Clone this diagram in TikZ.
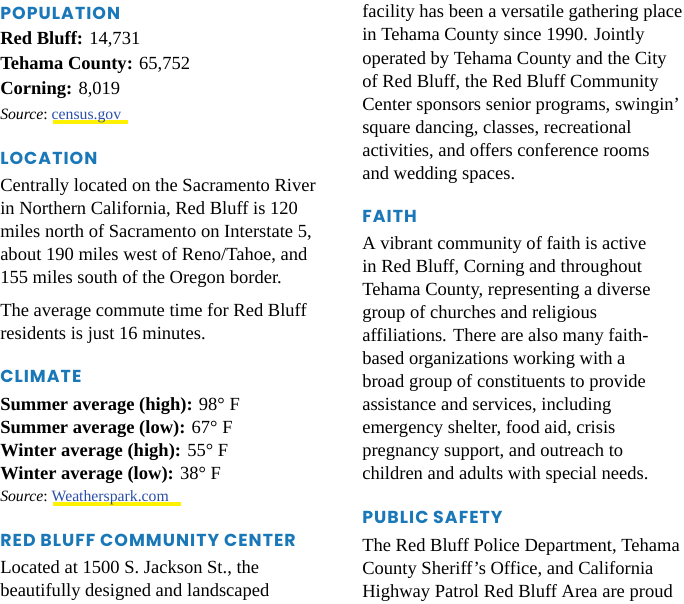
\documentclass[tikz,border=0pt]{standalone}
\usepackage{fontspec}
\setmainfont{Liberation Serif}
\newfontfamily\headfont[LetterSpace=6]{Poppins}
\definecolor{hblue}{HTML}{1A78B8}
\definecolor{lblue}{HTML}{2A4FA8}
\definecolor{hyel}{HTML}{FFF200}
\tikzset{x=0.75pt,y=-0.75pt,
 body/.style={anchor=base west,inner sep=0pt,font=\fontsize{13.9}{15}\selectfont},
 head/.style={anchor=base west,inner sep=0pt,text=hblue,font=\headfont\bfseries\fontsize{13}{14}\selectfont},
 src/.style={anchor=base west,inner sep=0pt,font=\fontsize{11.8}{13}\selectfont}}
\newcommand{\lnk}[1]{\textcolor{lblue}{#1}}
\begin{document}
\begin{tikzpicture}
\useasboundingbox (0,0) rectangle (684,603);
\node[head] (h1) at (0,19) {POPULATION};
\node[body] (a1) at (0,44) {\textbf{Red Bluff:} 14,731};
\node[body] (a2) at (0,69) {\textbf{Tehama County:} 65,752};
\node[body] (a3) at (0,94) {\textbf{Corning:} 8,019};
\fill[hyel] (53,120) rectangle (128,124);
\node[src] (s1) at (0,119) {\textit{Source}:\ \lnk{census.gov}};
\node[head] (h2) at (0,164) {LOCATION};
\node[body] (b1) at (0,191) {Centrally located on the Sacramento River};
\node[body] (b2) at (0,214) {in Northern California, Red Bluff is 120};
\node[body] (b3) at (0,237) {miles north of Sacramento on Interstate 5,};
\node[body] (b4) at (0,260) {about 190 miles west of Reno/Tahoe, and};
\node[body] (b5) at (0,283) {155 miles south of the Oregon border.};
\node[body] (b6) at (0,316) {The average commute time for Red Bluff};
\node[body] (b7) at (0,339) {residents is just 16 minutes.};
\node[head] (h3) at (0,382) {CLIMATE};
\node[body] (c1) at (0,410) {\textbf{Summer average (high):} 98° F};
\node[body] (c2) at (0,433) {\textbf{Summer average (low):} 67° F};
\node[body] (c3) at (0,456) {\textbf{Winter average (high):} 55° F};
\node[body] (c4) at (0,479) {\textbf{Winter average (low):} 38° F};
\fill[hyel] (53,502) rectangle (181,506);
\node[src] (s2) at (0,501) {\textit{Source}:\ \lnk{Weatherspark.com}};
\node[head] (h4) at (0,546) {RED BLUFF COMMUNITY CENTER};
\node[body] (d1) at (0,573) {Located at 1500 S. Jackson St., the};
\node[body] (d2) at (0,596) {beautifully designed and landscaped};
\node[body] (e1) at (362,17) {facility has been a versatile gathering place};
\node[body] (e2) at (362,40) {in Tehama County since 1990. Jointly};
\node[body] (e3) at (362,64) {operated by Tehama County and the City};
\node[body] (e4) at (362,87) {of Red Bluff, the Red Bluff Community};
\node[body] (e5) at (362,110) {Center sponsors senior programs, swingin’};
\node[body] (e6) at (362,133) {square dancing, classes, recreational};
\node[body] (e7) at (362,156) {activities, and offers conference rooms};
\node[body] (e8) at (362,179) {and wedding spaces.};
\node[head] (h5) at (362,222) {FAITH};
\node[body] (f1) at (362,249) {A vibrant community of faith is active};
\node[body] (f2) at (362,272) {in Red Bluff, Corning and throughout};
\node[body] (f3) at (362,295) {Tehama County, representing a diverse};
\node[body] (f4) at (362,318) {group of churches and religious};
\node[body] (f5) at (362,341) {affiliations. There are also many faith-};
\node[body] (f6) at (362,364) {based organizations working with a};
\node[body] (f7) at (362,387) {broad group of constituents to provide};
\node[body] (f8) at (362,410) {assistance and services, including};
\node[body] (f9) at (362,433) {emergency shelter, food aid, crisis};
\node[body] (f10) at (362,456) {pregnancy support, and outreach to};
\node[body] (f11) at (362,479) {children and adults with special needs.};
\node[head] (h6) at (362,523) {PUBLIC SAFETY};
\node[body] (g1) at (362,551) {The Red Bluff Police Department, Tehama};
\node[body] (g2) at (362,574) {County Sheriff’s Office, and California};
\node[body] (g3) at (362,597) {Highway Patrol Red Bluff Area are proud};
\end{tikzpicture}
\end{document}
